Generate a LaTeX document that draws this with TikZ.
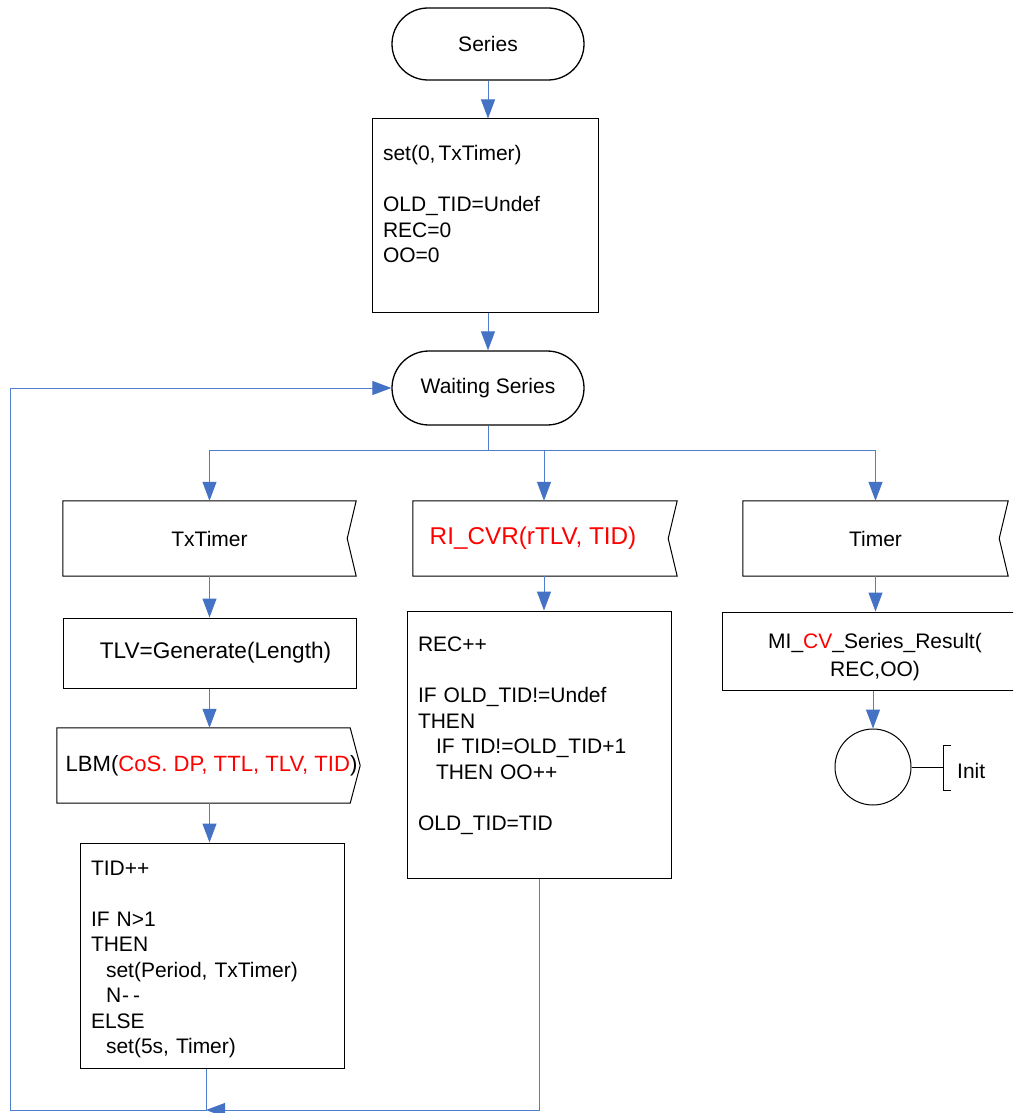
\documentclass[tikz,border=0pt]{standalone}
\usepackage{fontspec}
\setmainfont{Liberation Sans}
\usetikzlibrary{arrows.meta}
\definecolor{wirec}{HTML}{4F7FCC}
\definecolor{tipc}{HTML}{4472C4}
\newcommand\topfix{\rule{0pt}{26pt}}
\begin{document}
\begin{tikzpicture}[x=1pt,y=-1pt,
  every node/.style={font=\fontsize{21}{25.5}\selectfont},
  term/.style={draw, line width=1.3pt, minimum width=192pt, inner sep=0pt},
  procbox/.style={draw, line width=1pt, inner sep=0pt},
  txtbox/.style={procbox, align=left, inner xsep=11pt},
  sig/.style={inner sep=0pt, minimum height=75pt},
  sigline/.style={draw, line width=1pt},
  wire/.style={draw=wirec, line width=1pt},
  arr/.style={wire, -{Triangle[length=19pt,width=14pt,color=tipc]}}
]
\clip (0,0) rectangle (1013,1113);
\fill[white] (0,0) rectangle (1013,1113);

% terminals
\node[term, rounded corners=36pt, minimum height=72pt] (series) at (488,44) {Series};
\node[term, rounded corners=37pt, minimum height=74pt] (waiting) at (488,388) {Waiting Series};

% init box
\node[txtbox, text width=204pt, minimum height=193pt] (initb) at (485,215.5)
  {\topfix set(0,\kern3pt TxTimer)\\ \strut\\ \strut OLD\_TID=Undef\\ \strut REC=0\\ \strut OO=0\\ \strut};

% signal inputs
\node[sig, minimum width=293pt] (txs) at (209.5,538.5) {TxTimer};
\draw[sigline] (txs.north west) -- (txs.north east) -- ([xshift=-9pt]txs.east) -- (txs.south east) -- (txs.south west) -- cycle;
\node[sig, minimum width=264pt, text=red, font=\fontsize{24.3}{29}\selectfont] (ris) at (545,538.5) {RI\_CVR(rTLV, TID)\hspace*{24pt}};
\draw[sigline] (ris.north west) -- (ris.north east) -- ([xshift=-9pt]ris.east) -- (ris.south east) -- (ris.south west) -- cycle;
\node[sig, minimum width=265pt] (tms) at (875.5,538.5) {Timer};
\draw[sigline] (tms.north west) -- (tms.north east) -- ([xshift=-9pt]tms.east) -- (tms.south east) -- (tms.south west) -- cycle;

% left column
\node[procbox, minimum width=293pt, minimum height=70pt, font=\fontsize{22.6}{27}\selectfont] (tlv) at (209.5,653) {\hspace*{12pt}TLV=Generate(Length)};
\node[sig, minimum width=303pt, font=\fontsize{22.1}{26}\selectfont] (lbm) at (208.5,765.5) {\hspace*{6pt}LBM(\textcolor{red}{CoS. DP, TTL, TLV, TID})};
\draw[sigline] (lbm.north west) -- ([xshift=-10pt]lbm.north east) -- (lbm.east) -- ([xshift=-10pt]lbm.south east) -- (lbm.south west) -- cycle;
\node[txtbox, text width=242pt, minimum height=225pt] (tid) at (212,955.5)
  {\topfix TID++\\ \strut\\ \strut IF N>1\\ \strut THEN\\ \strut\hspace*{15pt}set(Period, TxTimer)\\ \strut\hspace*{15pt}N\kern1pt-{\kern4pt}-\\ \strut ELSE\\ \strut\hspace*{15pt}set(5s, Timer)};

% middle column
\node[txtbox, text width=242pt, minimum height=267pt] (rib) at (539,744.5)
  {\topfix REC++\\ \strut\\ \strut IF OLD\_TID!=Undef\\ \strut THEN\\ \strut\hspace*{18pt}IF TID!=OLD\_TID+1\\ \strut\hspace*{18pt}THEN OO++\\ \strut\\ \strut OLD\_TID=TID\\ \strut};

% right column
\node[procbox, minimum width=306pt, minimum height=78pt, align=center] (mi) at (875,651)
  {\rule{0pt}{27pt}MI\_\textcolor{red}{CV}\_Series\_Result(\\[2.5pt]REC,OO)};
\node[draw, circle, line width=1pt, minimum size=76pt, inner sep=0pt] (fin) at (873,767) {};
\coordinate (cmt) at (943,767);
\draw[line width=1pt] (fin.east) -- (cmt);
\draw[line width=1pt] (951,745) -- (943,745) -- (943,790) -- (951,790);
\node[anchor=west, inner sep=0pt] (initlbl) at (957,771) {Init};

% connectors
\draw[arr] (series.south) -- (series.south |- initb.north);
\draw[arr] (series.south |- initb.south) -- (waiting.north);
\coordinate (br) at (488,450);
\draw[wire] (waiting.south) -- (br);
\draw[arr] (br) -| (txs.north);
\draw[arr] (br) -| ([xshift=-1pt]ris.north);
\draw[arr] (br) -| (tms.north);
\draw[arr] (txs.south) -- (tlv.north);
\draw[arr] (tlv.south) -- (tlv.south |- lbm.north);
\draw[arr] (tlv.south |- lbm.south) -- (tlv.south |- tid.north);
\draw[arr] ([xshift=-1pt]ris.south) -- ([xshift=-1pt]ris.south |- rib.north);
\draw[arr] (tms.south) -- (tms.south |- mi.north);
\draw[arr] (fin.north |- mi.south) -- (fin.north);

% loop back
\coordinate (jn) at (206,1110);
\coordinate (lp) at (10,1110);
\draw[arr] (rib.south) |- (jn);
\draw[arr] (tid.south -| jn) -- (jn) -- (lp) |- (waiting.west);
\end{tikzpicture}
\end{document}
